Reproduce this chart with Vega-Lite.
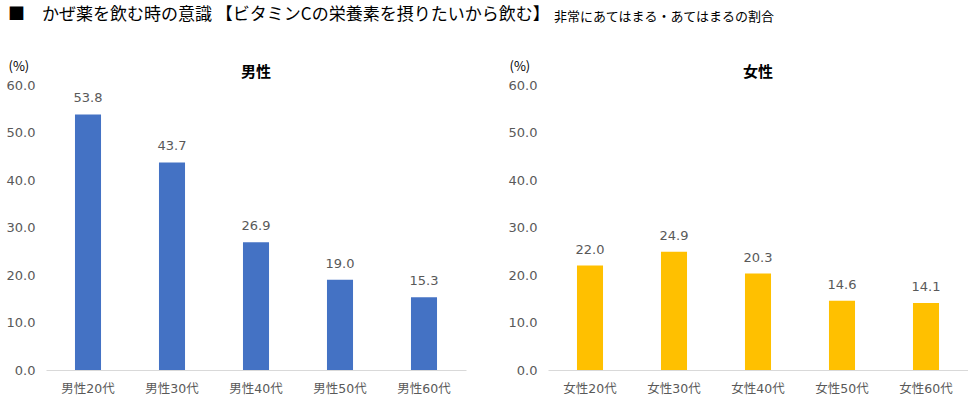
{
  "$schema": "https://vega.github.io/schema/vega-lite/v6.json",
  "padding": {"left": 6, "top": 6, "right": 0, "bottom": 0},
  "background": "white",
  "title": {
    "text": "■　かぜ薬を飲む時の意識 【ビタミンCの栄養素を摂りたいから飲む】",
    "subtitle": "‍　　　　　　　　　　　　　　　　　　　　　　　　　　　　　　　　　　　　　　　　　　非常にあてはまる・あてはまるの割合",
    "anchor": "start",
    "frame": "group",
    "font": "Noto Sans CJK JP",
    "fontSize": 17,
    "fontWeight": "normal",
    "color": "#000000",
    "subtitleFont": "Noto Sans CJK JP",
    "subtitleFontSize": 13,
    "subtitleColor": "#000000",
    "subtitlePadding": -13,
    "dx": -38,
    "offset": 35
  },
  "datasets": {
    "survey": [
      {"gender": "男性", "group": "男性20代", "value": 53.8},
      {"gender": "男性", "group": "男性30代", "value": 43.7},
      {"gender": "男性", "group": "男性40代", "value": 26.9},
      {"gender": "男性", "group": "男性50代", "value": 19.0},
      {"gender": "男性", "group": "男性60代", "value": 15.3},
      {"gender": "女性", "group": "女性20代", "value": 22.0},
      {"gender": "女性", "group": "女性30代", "value": 24.9},
      {"gender": "女性", "group": "女性40代", "value": 20.3},
      {"gender": "女性", "group": "女性50代", "value": 14.6},
      {"gender": "女性", "group": "女性60代", "value": 14.1}
    ]
  },
  "config": {
    "view": {"stroke": null},
    "font": "DejaVu Sans, Noto Sans CJK JP",
    "concat": {"spacing": 42},
    "axis": {
      "labelFont": "DejaVu Sans, Noto Sans CJK JP",
      "labelFontSize": 12,
      "labelColor": "#595959",
      "ticks": false,
      "grid": false
    }
  },
  "hconcat": [
    {
      "width": 420,
      "height": 285,
      "data": {"name": "survey"},
      "transform": [{"filter": "datum.gender === '男性'"}],
      "title": {"text": "男性", "font": "Noto Sans CJK JP", "fontSize": 15, "fontWeight": "bold", "color": "#000000", "anchor": "middle", "frame": "group", "offset": 0, "dy": 20},
      "encoding": {
        "x": {"field": "group", "type": "nominal", "sort": null, "title": null,
              "scale": {"paddingInner": 0.69, "paddingOuter": 0.345},
              "axis": {"labelAngle": 0, "domainColor": "#D9D9D9", "domainWidth": 1, "labelPadding": 12, "labelFontSize": 12.5}},
        "y": {"field": "value", "type": "quantitative",
              "scale": {"domain": [0, 60], "nice": false},
              "axis": {"values": [0, 10, 20, 30, 40, 50, 60], "format": ".1f", "domain": false, "labelPadding": 11, "labelFontSize": 13,
                       "title": "(%)", "titleAngle": 0, "titleX": -38, "titleY": -19, "titleAlign": "left", "titleBaseline": "middle",
                       "titleFont": "Noto Sans CJK JP", "titleFontSize": 13, "titleFontWeight": "normal", "titleColor": "#000000"}}
      },
      "layer": [
        {"mark": {"type": "bar", "color": "#4472C4"}},
        {"mark": {"type": "text", "dy": -16, "fontSize": 13, "color": "#595959", "font": "DejaVu Sans"},
         "encoding": {"text": {"field": "value", "type": "quantitative", "format": ".1f"}}}
      ]
    },
    {
      "width": 420,
      "height": 285,
      "data": {"name": "survey"},
      "transform": [{"filter": "datum.gender === '女性'"}],
      "title": {"text": "女性", "font": "Noto Sans CJK JP", "fontSize": 15, "fontWeight": "bold", "color": "#000000", "anchor": "middle", "frame": "group", "offset": 0, "dy": 20},
      "encoding": {
        "x": {"field": "group", "type": "nominal", "sort": null, "title": null,
              "scale": {"paddingInner": 0.69, "paddingOuter": 0.345},
              "axis": {"labelAngle": 0, "domainColor": "#D9D9D9", "domainWidth": 1, "labelPadding": 12, "labelFontSize": 12.5}},
        "y": {"field": "value", "type": "quantitative",
              "scale": {"domain": [0, 60], "nice": false},
              "axis": {"values": [0, 10, 20, 30, 40, 50, 60], "format": ".1f", "domain": false, "labelPadding": 11, "labelFontSize": 13,
                       "title": "(%)", "titleAngle": 0, "titleX": -39, "titleY": -19, "titleAlign": "left", "titleBaseline": "middle",
                       "titleFont": "Noto Sans CJK JP", "titleFontSize": 13, "titleFontWeight": "normal", "titleColor": "#000000"}}
      },
      "layer": [
        {"mark": {"type": "bar", "color": "#FFC000"}},
        {"mark": {"type": "text", "dy": -16, "fontSize": 13, "color": "#595959", "font": "DejaVu Sans"},
         "encoding": {"text": {"field": "value", "type": "quantitative", "format": ".1f"}}}
      ]
    }
  ]
}
